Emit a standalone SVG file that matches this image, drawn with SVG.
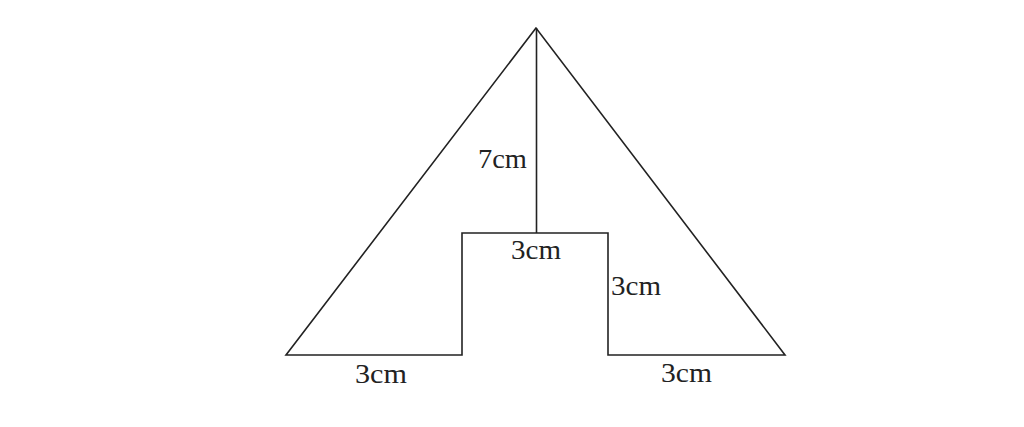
<svg xmlns="http://www.w3.org/2000/svg" width="1024" height="427" viewBox="0 0 1024 427">
<style>
.ln{fill:none;stroke:#222;stroke-width:1.6;stroke-linejoin:miter}
.t{font-family:"Liberation Serif","Times New Roman",serif;font-size:27px;fill:#222}
</style>
<rect width="1024" height="427" fill="#fff"/>
<g id="shape">
<path class="ln" d="M536,28 L286,355 L462,355 L462,233 L608,233 L608,355 L785,355 Z"/>
<line class="ln" x1="536.5" y1="28" x2="536.5" y2="233"/>
</g>
<g id="labels">
<text class="t" x="478" y="168" textLength="49" lengthAdjust="spacingAndGlyphs">7cm</text>
<text class="t" x="511" y="259" textLength="50" lengthAdjust="spacingAndGlyphs">3cm</text>
<text class="t" x="611" y="295" textLength="50" lengthAdjust="spacingAndGlyphs">3cm</text>
<text class="t" x="355" y="383" textLength="52" lengthAdjust="spacingAndGlyphs">3cm</text>
<text class="t" x="661" y="382" textLength="51" lengthAdjust="spacingAndGlyphs">3cm</text>
</g>
</svg>
